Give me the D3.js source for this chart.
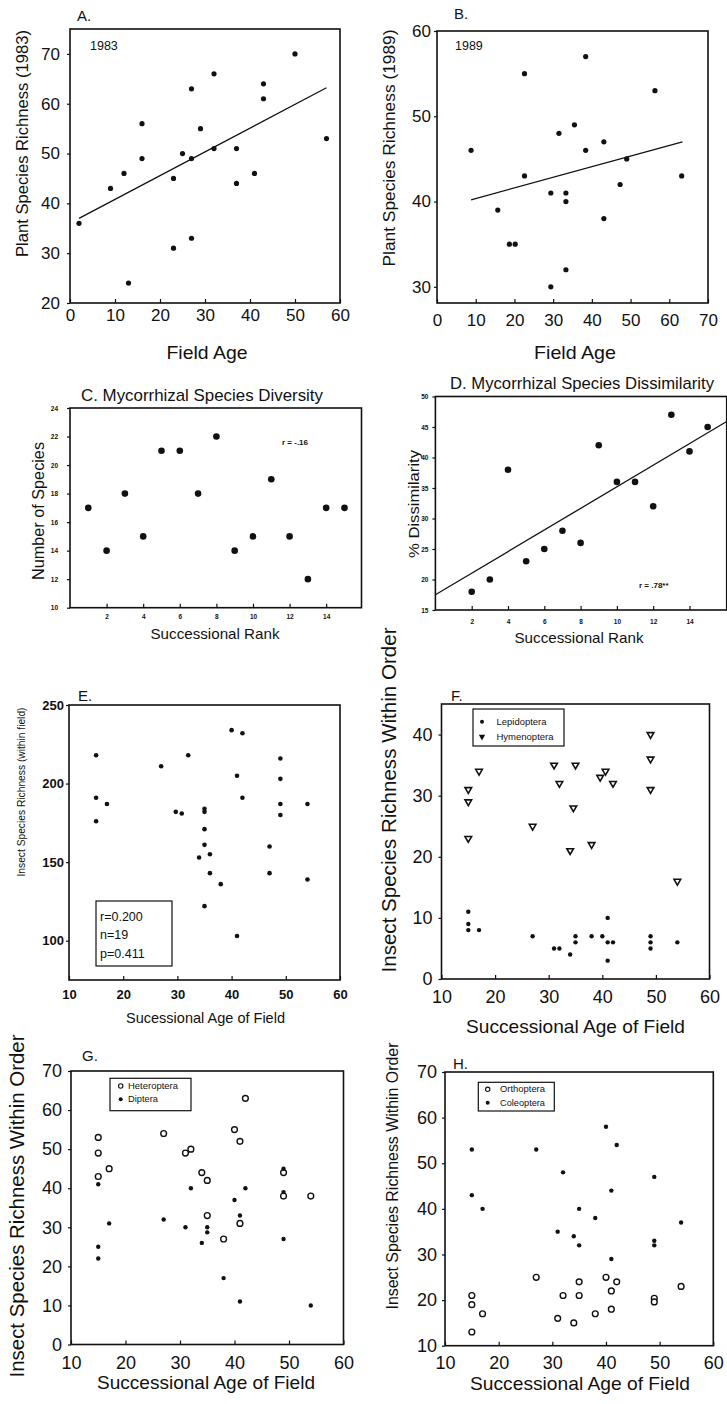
<!DOCTYPE html>
<html><head><meta charset="utf-8">
<script src="https://cdn.jsdelivr.net/npm/d3@7/dist/d3.min.js"></script>
<style>
body{margin:0;background:#fff;}
svg{display:block;font-family:"Liberation Sans",Arial,Helvetica,sans-serif;}
</style></head><body>
<svg id="c" width="727" height="1404"></svg>
<script>
// ---------------- DATA ----------------
// A. Plant species richness 1983 vs field age
const aFieldAge = [2, 9, 12, 13, 16, 16, 23, 23, 25, 27, 27, 27, 29, 32, 32, 37, 37, 41, 43, 43, 50, 57];
const aRichness1983 = [36, 43, 46, 24, 56, 49, 45, 31, 50, 49, 63, 33, 55, 66, 51, 51, 44, 46, 64, 61, 70, 53];
const aFitAge = [2, 57];
const aFitRichness = [37, 63.2];
const aXTicks = [0, 10, 20, 30, 40, 50, 60];
const aYTicks = [20, 30, 40, 50, 60, 70];

// B. Plant species richness 1989 vs field age
const bFieldAge = [8.8, 15.7, 18.7, 20.2, 22.6, 22.6, 29.4, 29.4, 31.5, 33.3, 33.3, 33.3, 35.5, 38.4, 38.4, 43.1, 43.1, 47.3, 49, 56.3, 63.2];
const bRichness1989 = [46, 39, 35, 35, 55, 43, 30, 41, 48, 41, 40, 32, 49, 57, 46, 47, 38, 42, 45, 53, 43];
const bFitAge = [8.8, 63.4];
const bFitRichness = [40.2, 47];
const bXTicks = [0, 10, 20, 30, 40, 50, 60, 70];
const bYTicks = [30, 40, 50, 60];

// C. Mycorrhizal species diversity vs successional rank
const cRank = [1, 2, 3, 4, 5, 6, 7, 8, 9, 10, 11, 12, 13, 14, 15];
const cSpecies = [17, 14, 18, 15, 21, 21, 18, 22, 14, 15, 19, 15, 12, 17, 17];
const cXTicks = [2, 4, 6, 8, 10, 12, 14];
const cYTicks = [10, 12, 14, 16, 18, 20, 22, 24];
const cNote = "r = -.16";

// D. Mycorrhizal species dissimilarity vs successional rank
const dRank = [2, 3, 4, 5, 6, 7, 8, 9, 10, 11, 12, 13, 14, 15];
const dDissimilarity = [18, 20, 38, 23, 25, 28, 26, 42, 36, 36, 32, 47, 41, 45];
const dFitRank = [0, 16.05];
const dFitDissimilarity = [17.5, 45.9];
const dXTicks = [2, 4, 6, 8, 10, 12, 14];
const dYTicks = [15, 20, 25, 30, 35, 40, 45, 50];
const dNote = "r = .78**";

// E. Insect species richness (within field)
const eAge = [15, 15, 15, 17, 27, 29.7, 30.8, 32, 35, 35, 35, 35, 34, 36, 36, 38, 35, 40, 42, 41, 42, 41, 49, 49, 49, 49, 47, 47, 54, 54];
const eRichness = [218, 191, 176, 187, 211, 182, 181, 218, 184, 182, 171, 161, 153, 155, 143, 136, 122, 234, 232, 205, 191, 103, 216, 203, 187, 180, 160, 143, 187, 139];
const eStats = ["r=0.200", "n=19", "p=0.411"];
const eXTicks = [10, 20, 30, 40, 50, 60];
const eYTicks = [100, 150, 200, 250];

// F. Lepidoptera / Hymenoptera
const fLepAge = [15, 15, 15, 17, 27, 31, 32, 34, 35, 35, 38, 40, 41, 42, 41, 41, 49, 49, 49, 54];
const fLepRichness = [11, 9, 8, 8, 7, 5, 5, 4, 7, 6, 7, 7, 6, 6, 3, 10, 7, 6, 5, 6];
const fHymAge = [15, 15, 15, 17, 27, 31, 32, 35, 34.6, 34, 38, 39.6, 40.6, 42, 49, 49, 49, 54];
const fHymRichness = [31, 29, 23, 34, 25, 35, 32, 35, 28, 21, 22, 33, 34, 32, 40, 36, 31, 16];
const fXTicks = [10, 20, 30, 40, 50, 60];
const fYTicks = [0, 10, 20, 30, 40];

// G. Heteroptera / Diptera
const gHetAge = [15, 15, 15, 17, 27, 31, 32, 34, 35, 35, 38, 40, 41, 42, 41, 49, 49, 54];
const gHetRichness = [53, 49, 43, 45, 54, 49, 50, 44, 42, 33, 27, 55, 52, 63, 31, 44, 38, 38];
const gDipAge = [15, 15, 15, 17, 27, 31, 32, 34, 35, 35, 38, 40, 41, 42, 41, 49, 49, 49, 54];
const gDipRichness = [41, 25, 22, 31, 32, 30, 40, 26, 30, 28.7, 17, 37, 33, 40, 11, 45, 39, 27, 10];
const gXTicks = [10, 20, 30, 40, 50, 60];
const gYTicks = [0, 10, 20, 30, 40, 50, 60, 70];

// H. Orthoptera / Coleoptera
const hOrtAge = [15, 15, 15, 17, 27, 31, 32, 34, 35, 35, 38, 40, 41, 41, 42, 49, 49, 54];
const hOrtRichness = [21, 19, 13, 17, 25, 16, 21, 15, 24, 21, 17, 25, 22, 18, 24, 20.4, 19.6, 23];
const hColAge = [15, 15, 17, 27, 32, 31, 34, 35, 35, 38, 40, 41, 41, 42, 49, 49, 49, 54];
const hColRichness = [53, 43, 40, 53, 48, 35, 34, 40, 32, 38, 58, 44, 29, 54, 47, 33, 32, 37];
const hXTicks = [10, 20, 30, 40, 50, 60];
const hYTicks = [10, 20, 30, 40, 50, 60, 70];

// ---------------- DRAWING ----------------
const svg = d3.select('#c');
svg.append('rect').attr('width', 727).attr('height', 1404).attr('fill', '#fff');
const INK = '#111';

function frame(o) {
  const x = d3.scaleLinear().domain(o.xd).range(o.xr);
  const y = d3.scaleLinear().domain(o.yd).range(o.yr);
  const g = svg.append('g');
  const gx = g.append('g').attr('transform', `translate(0,${o.yr[0]})`)
    .call(d3.axisBottom(x).tickValues(o.xt).tickSizeInner(-4).tickSizeOuter(0)
      .tickPadding(o.xpad).tickFormat(d3.format('d')));
  const gy = g.append('g').attr('transform', `translate(${o.xr[0]},0)`)
    .call(d3.axisLeft(y).tickValues(o.yt).tickSizeInner(3).tickSizeOuter(0)
      .tickPadding(o.ypad).tickFormat(d3.format('d')));
  [gx, gy].forEach(a => {
    a.select('.domain').remove();
    a.selectAll('text').attr('font-size', o.fs).attr('fill', INK)
      .attr('font-weight', o.bold ? 'bold' : 'normal')
      .attr('font-family', '"Liberation Sans",Arial,sans-serif');
    a.selectAll('line').attr('stroke', INK).attr('stroke-width', 1.2);
  });
  g.append('rect').attr('x', o.xr[0]).attr('y', o.yr[1])
    .attr('width', o.xr[1] - o.xr[0]).attr('height', o.yr[0] - o.yr[1])
    .attr('fill', 'none').attr('stroke', INK).attr('stroke-width', 1.6);
  return { g, x, y };
}

function dots(p, xs, ys, r, open) {
  p.g.append('g').selectAll('circle').data(xs).join('circle')
    .attr('cx', (d) => p.x(d)).attr('cy', (d, i) => p.y(ys[i])).attr('r', r)
    .attr('fill', open ? '#fff' : INK).attr('stroke', INK).attr('stroke-width', open ? 1.4 : 0);
}
function fitLine(p, xs, ys) {
  p.g.append('path').attr('d', d3.line().x(d => p.x(d)).y((d, i) => p.y(ys[i]))(xs))
    .attr('fill', 'none').attr('stroke', INK).attr('stroke-width', 1.3);
}
function txt(x, y, s, fs, opt = {}) {
  const t = svg.append('text').attr('x', x).attr('y', y).text(s).attr('font-size', fs)
    .attr('fill', INK).attr('text-anchor', opt.anchor || 'start')
    .attr('font-weight', opt.bold ? 'bold' : 'normal');
  if (opt.len) t.attr('textLength', opt.len).attr('lengthAdjust', 'spacingAndGlyphs');
  return t;
}
function ytitle(xBase, yc, s, fs, len) {
  svg.append('text').attr('transform', `translate(${xBase},${yc}) rotate(-90)`)
    .attr('text-anchor', 'middle').attr('font-size', fs).attr('fill', INK)
    .attr('textLength', len).attr('lengthAdjust', 'spacingAndGlyphs').text(s);
}

// ---- A ----
const pA = frame({ xd: [0, 60], xr: [70, 340], yd: [20, 75], yr: [303, 29], xt: aXTicks, yt: aYTicks, fs: 17, xpad: 6, ypad: 7 });
fitLine(pA, aFitAge, aFitRichness);
dots(pA, aFieldAge, aRichness1983, 2.6);
txt(77, 21, 'A.', 15);
txt(90, 50, '1983', 12.5);
ytitle(28, 143.5, 'Plant Species Richness (1983)', 17, 227);
txt(207, 359, 'Field Age', 19, { anchor: 'middle', len: 81 });

// ---- B ----
const pB = frame({ xd: [0, 70], xr: [437, 708], yd: [28.1, 60], yr: [303, 31], xt: bXTicks, yt: bYTicks, fs: 17, xpad: 11, ypad: 3 });
fitLine(pB, bFitAge, bFitRichness);
dots(pB, bFieldAge, bRichness1989, 2.6);
txt(454, 19, 'B.', 15);
txt(455, 50, '1989', 12.5);
ytitle(395, 148, 'Plant Species Richness (1989)', 17, 237);
txt(575, 359, 'Field Age', 19, { anchor: 'middle', len: 82 });

// ---- C ----
const pC = frame({ xd: [0, 15.93], xr: [70, 361.5], yd: [10, 24], yr: [607.7, 408], xt: cXTicks, yt: cYTicks, fs: 6.5, bold: true, xpad: 7, ypad: 9 });
dots(pC, cRank, cSpecies, 3.3);
txt(202, 401, 'C. Mycorrhizal Species Diversity', 17, { anchor: 'middle', len: 242 });
txt(282, 445, cNote, 8, { bold: true });
ytitle(44, 511, 'Number of Species', 16, 138);
txt(215, 638.5, 'Successional Rank', 15, { anchor: 'middle', len: 129 });

// ---- D ----
const pD = frame({ xd: [0, 16.05], xr: [435.4, 726.7], yd: [15, 50], yr: [610, 396.5], xt: dXTicks, yt: dYTicks, fs: 6.5, bold: true, xpad: 9.4, ypad: 4 });
fitLine(pD, dFitRank, dFitDissimilarity);
dots(pD, dRank, dDissimilarity, 3.3);
txt(582, 389, 'D. Mycorrhizal Species Dissimilarity', 17, { anchor: 'middle', len: 264 });
txt(639, 588, dNote, 8, { bold: true });
ytitle(419, 504, '% Dissimilarity', 15.5, 108);
txt(579, 642.5, 'Successional Rank', 15, { anchor: 'middle', len: 129 });

// ---- E ----
const pE = frame({ xd: [10, 60], xr: [69, 340], yd: [75, 250], yr: [980, 705], xt: eXTicks, yt: eYTicks, fs: 13, bold: true, xpad: 9.5, ypad: 2 });
dots(pE, eAge, eRichness, 2.3);
pE.g.append('rect').attr('x', 96).attr('y', 901).attr('width', 76).attr('height', 65)
  .attr('fill', '#fff').attr('stroke', INK).attr('stroke-width', 1.2);
eStats.forEach((s, i) => txt(100, 920.5 + i * 18.5, s, 12.5));
txt(78, 701, 'E.', 15);
ytitle(25, 792, 'Insect Species Richness (within field)', 10.5, 169);
txt(205.5, 1023, 'Sucessional Age of Field', 14.5, { anchor: 'middle', len: 159 });

// legend helper
function legend(x0, y0, w, h, items) {
  svg.append('rect').attr('x', x0).attr('y', y0).attr('width', w).attr('height', h)
    .attr('fill', '#fff').attr('stroke', INK).attr('stroke-width', 1.2);
  items.forEach(it => {
    it.draw(it.mx, it.my);
    txt(it.tx, it.my + 3, it.label, 8.5, { len: it.len });
  });
}
const tri = d3.symbol().type(d3.symbolTriangle).size(19);
function triangles(p, xs, ys) {
  p.g.append('g').selectAll('path').data(xs).join('path')
    .attr('d', tri).attr('transform', (d, i) => `translate(${p.x(d)},${p.y(ys[i])}) rotate(180)`)
    .attr('fill', '#fff').attr('stroke', INK).attr('stroke-width', 1.6);
}

// ---- F ----
const pF = frame({ xd: [10, 60], xr: [441.5, 709.5], yd: [0, 45], yr: [979, 704], xt: fXTicks, yt: fYTicks, fs: 18, xpad: 11.7, ypad: 6 });
dots(pF, fLepAge, fLepRichness, 2.2);
triangles(pF, fHymAge, fHymRichness);
legend(473, 709, 91, 37, [
  { mx: 482, my: 721.7, tx: 496.5, label: 'Lepidoptera', len: 50, draw: (x, y) => svg.append('circle').attr('cx', x).attr('cy', y).attr('r', 2).attr('fill', INK) },
  { mx: 482, my: 736.7, tx: 496.5, label: 'Hymenoptera', len: 57, draw: (x, y) => svg.append('path').attr('d', d3.symbol().type(d3.symbolTriangle).size(18)).attr('transform', `translate(${x},${y}) rotate(180)`).attr('fill', INK) }
]);
txt(451, 701, 'F.', 15);
ytitle(396, 800, 'Insect Species Richness Within Order', 20, 345);
txt(575.5, 1033, 'Successional Age of Field', 19, { anchor: 'middle', len: 219 });

// ---- G ----
const pG = frame({ xd: [10, 60], xr: [71, 343.5], yd: [0, 70], yr: [1344.5, 1071], xt: gXTicks, yt: gYTicks, fs: 18, xpad: 12, ypad: 6 });
dots(pG, gHetAge, gHetRichness, 2.9, true);
dots(pG, gDipAge, gDipRichness, 2.2);
legend(110, 1078.3, 81, 32.4, [
  { mx: 120.7, my: 1086, tx: 128, label: 'Heteroptera', len: 50, draw: (x, y) => svg.append('circle').attr('cx', x).attr('cy', y).attr('r', 2.2).attr('fill', '#fff').attr('stroke', INK).attr('stroke-width', 1.1) },
  { mx: 120.7, my: 1099.3, tx: 128, label: 'Diptera', len: 30, draw: (x, y) => svg.append('circle').attr('cx', x).attr('cy', y).attr('r', 2).attr('fill', INK) }
]);
txt(82, 1061, 'G.', 15);
ytitle(24, 1206, 'Insect Species Richness Within Order', 20, 343);
txt(206, 1389, 'Successional Age of Field', 19, { anchor: 'middle', len: 218 });

// ---- H ----
const pH = frame({ xd: [10, 60], xr: [445, 713.3], yd: [10, 70], yr: [1345.7, 1072], xt: hXTicks, yt: hYTicks, fs: 18, xpad: 11, ypad: 5 });
dots(pH, hOrtAge, hOrtRichness, 2.9, true);
dots(pH, hColAge, hColRichness, 2.2);
legend(478.3, 1082.3, 76, 28.7, [
  { mx: 487.7, my: 1089.3, tx: 500, label: 'Orthoptera', len: 45, draw: (x, y) => svg.append('circle').attr('cx', x).attr('cy', y).attr('r', 2.2).attr('fill', '#fff').attr('stroke', INK).attr('stroke-width', 1.1) },
  { mx: 487.7, my: 1102.7, tx: 500, label: 'Coleoptera', len: 45, draw: (x, y) => svg.append('circle').attr('cx', x).attr('cy', y).attr('r', 2).attr('fill', INK) }
]);
txt(453, 1069, 'H.', 15);
ytitle(398, 1176, 'Insect Species Richness Within Order', 16.5, 267);
txt(580, 1390, 'Successional Age of Field', 19, { anchor: 'middle', len: 220 });
</script>
</body></html>
